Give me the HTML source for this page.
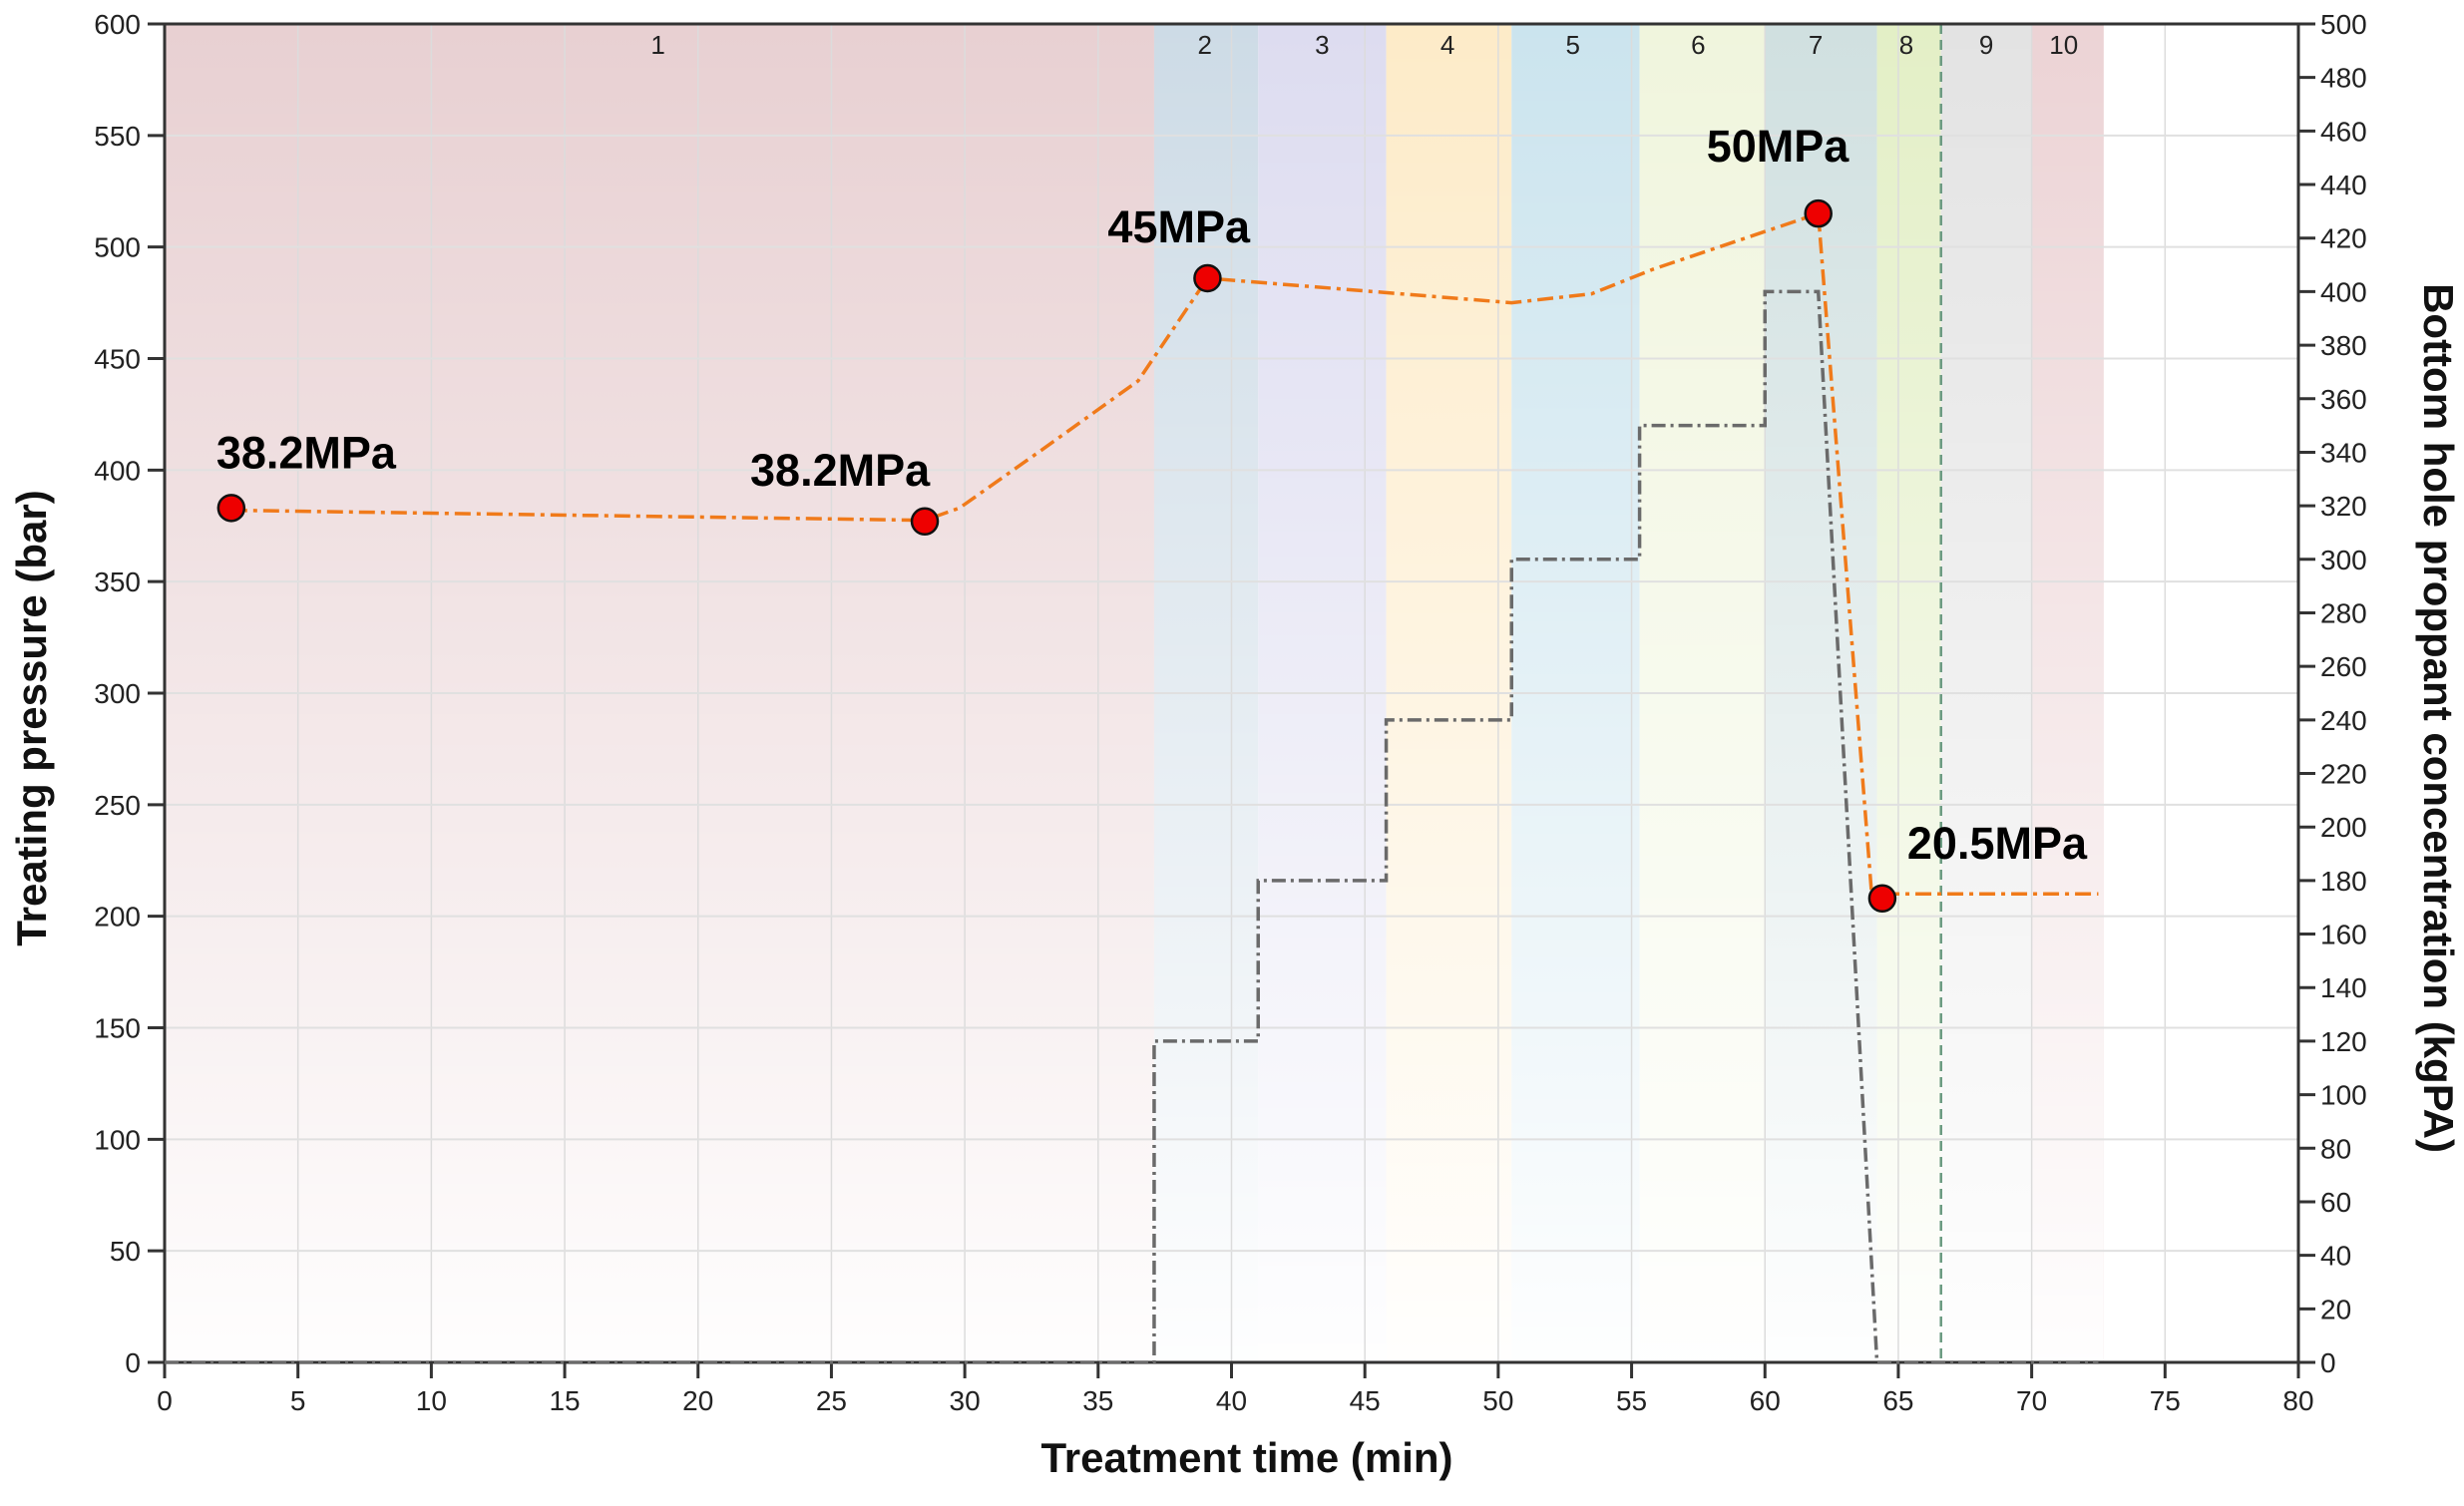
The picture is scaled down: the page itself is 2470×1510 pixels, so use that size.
<!DOCTYPE html>
<html><head><meta charset="utf-8"><style>
html,body{margin:0;padding:0;background:#fff;width:2470px;height:1510px;overflow:hidden}
svg text{font-family:"Liberation Sans Narrow","Liberation Sans",sans-serif}
</style></head><body>
<svg id="s" width="2470" height="1510" xmlns="http://www.w3.org/2000/svg"></svg>
<script>
const X0=165,X1=2304,Y0=1366,Y1=24;
const X=m=>X0+(X1-X0)*m/80, Y=b=>Y0-(Y0-Y1)*b/600, YR=k=>Y0-(Y0-Y1)*k/500;
let h=`<defs><linearGradient id="fade" x1="0" y1="0" x2="0" y2="1"><stop offset="0" stop-color="#fff" stop-opacity="0"/><stop offset="1" stop-color="#fff" stop-opacity="0.97"/></linearGradient></defs>`;
const bands=[[0,37.1,'#e8d0d2'],[37.1,41,'#cddbe6'],[41,45.8,'#dddcf0'],[45.8,50.5,'#fdebc8'],[50.5,55.3,'#cbe4ee'],[55.3,60,'#f0f5dd'],[60,64.2,'#d0e0e0'],[64.2,66.6,'#e3efc6'],[66.6,70,'#e3e3e3'],[70,72.7,'#ecd3d5']];
bands.forEach(b=>{h+=`<rect x="${X(b[0])}" y="${Y1}" width="${X(b[1])-X(b[0])}" height="${Y0-Y1}" fill="${b[2]}"/>`});
h+=`<rect x="${X0}" y="${Y1}" width="${X(72.7)-X0}" height="${Y0-Y1}" fill="url(#fade)"/>`;
for(let m=5;m<=80;m+=5)h+=`<line x1="${X(m)}" y1="${Y1}" x2="${X(m)}" y2="${Y0}" stroke="#dcdcdc" stroke-width="1.5"/>`;
for(let b=50;b<=600;b+=50)h+=`<line x1="${X0}" y1="${Y(b)}" x2="${X1}" y2="${Y(b)}" stroke="#e0e0e0" stroke-width="2"/>`;
h+=`<line x1="${X(66.6)}" y1="${Y1}" x2="${X(66.6)}" y2="${Y0}" stroke="#6a9a80" stroke-width="2.5" stroke-dasharray="10,6"/>`;
const labs=[[18.5,'1'],[39,'2'],[43.4,'3'],[48.1,'4'],[52.8,'5'],[57.5,'6'],[61.9,'7'],[65.3,'8'],[68.3,'9'],[71.2,'10']];
labs.forEach(l=>h+=`<text x="${X(l[0])}" y="54" font-size="26" text-anchor="middle" fill="#222">${l[1]}</text>`);
// axes
h+=`<line x1="${X0}" y1="${Y1}" x2="${X1}" y2="${Y1}" stroke="#333" stroke-width="3"/>`;
h+=`<line x1="${X0}" y1="${Y1}" x2="${X0}" y2="${Y0}" stroke="#333" stroke-width="3"/>`;
h+=`<line x1="${X1}" y1="${Y1}" x2="${X1}" y2="${Y0}" stroke="#333" stroke-width="3"/>`;
h+=`<line x1="${X0-15}" y1="${Y0}" x2="${X1+15}" y2="${Y0}" stroke="#333" stroke-width="3"/>`;
for(let m=0;m<=80;m+=5){h+=`<line x1="${X(m)}" y1="${Y0}" x2="${X(m)}" y2="${Y0+16}" stroke="#333" stroke-width="3"/><text x="${X(m)}" y="${Y0+48}" font-size="28" text-anchor="middle" fill="#222">${m}</text>`}
for(let b=0;b<=600;b+=50){h+=`<line x1="${X0-17}" y1="${Y(b)}" x2="${X0}" y2="${Y(b)}" stroke="#333" stroke-width="3"/><text x="${X0-24}" y="${Y(b)+10}" font-size="28" text-anchor="end" fill="#222">${b}</text>`}
for(let k=0;k<=500;k+=20){h+=`<line x1="${X1}" y1="${YR(k)}" x2="${X1+17}" y2="${YR(k)}" stroke="#333" stroke-width="3"/><text x="${X1+22}" y="${YR(k)+10}" font-size="28" fill="#222">${k}</text>`}
// gray step
let g=[[0,0],[37.1,0],[37.1,120],[41,120],[41,180],[45.8,180],[45.8,240],[50.5,240],[50.5,300],[55.3,300],[55.3,350],[60,350],[60,400],[62,400],[64.2,0],[72.5,0]];
h+=`<polyline points="${g.map(p=>X(p[0])+','+YR(p[1])).join(' ')}" fill="none" stroke="#6a6a6a" stroke-width="3.5" stroke-dasharray="14,5,3,5"/>`;
// orange
let o=[[2.5,382],[28.5,377.5],[29.8,383],[33,410],[36.5,440],[39.1,486],[50.5,475],[53.5,479],[55.8,490],[62,515],[64,210],[72.5,210]];
h+=`<polyline points="${o.map(p=>X(p[0])+','+Y(p[1])).join(' ')}" fill="none" stroke="#f07a1a" stroke-width="3.5" stroke-dasharray="16,6,4,6"/>`;
const mk=[[2.5,383,'38.2MPa',-15,-40],[28.5,377,'38.2MPa',-175,-36],[39.1,486,'45MPa',-100,-36],[62,515,'50MPa',-112,-52],[64.4,208,'20.5MPa',25,-40]];
mk.forEach(m=>{h+=`<circle cx="${X(m[0])}" cy="${Y(m[1])}" r="13" fill="#ee0000" stroke="#111" stroke-width="2.5"/>`;
h+=`<text x="${X(m[0])+m[3]}" y="${Y(m[1])+m[4]}" font-size="45" font-weight="bold" fill="#000">${m[2]}</text>`});
h+=`<text x="1250" y="1476" font-size="42" font-weight="bold" text-anchor="middle" fill="#111">Treatment time (min)</text>`;
h+=`<text transform="translate(46,720) rotate(-90)" font-size="42" font-weight="bold" text-anchor="middle" fill="#111">Treating pressure (bar)</text>`;
h+=`<text transform="translate(2430,720) rotate(90)" font-size="42" font-weight="bold" text-anchor="middle" fill="#111">Bottom hole proppant concentration (kgPA)</text>`;
document.getElementById('s').innerHTML=h;
</script>
</body></html>
